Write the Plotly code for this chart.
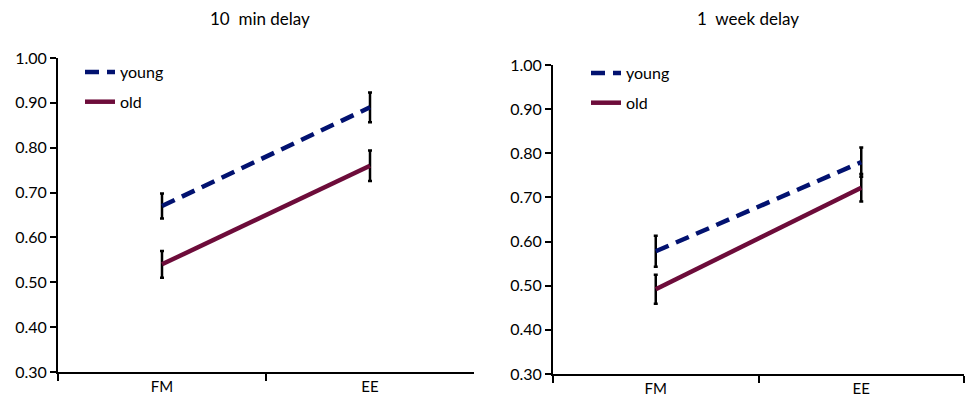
import plotly.graph_objects as go

categories = ["FM", "EE"]
titles = ["10  min delay", "1  week delay"]

young_10min = [0.67, 0.89]
young_10min_err = [0.028, 0.033]
old_10min = [0.54, 0.76]
old_10min_err = [0.03, 0.034]

young_1week = [0.578, 0.78]
young_1week_err = [0.035, 0.033]
old_1week = [0.492, 0.722]
old_1week_err = [0.033, 0.031]

yticks = [0.30, 0.40, 0.50, 0.60, 0.70, 0.80, 0.90, 1.00]
ytick_text = [f"{v:.2f}" for v in yticks]

YOUNG = "#021270"
OLD = "#6d0c3a"
FONT = "Lato, Open Sans, sans-serif"

fig = go.Figure()

panels = [
    ("x", "y", "legend", young_10min, young_10min_err, old_10min, old_10min_err),
    ("x2", "y2", "legend2", young_1week, young_1week_err, old_1week, old_1week_err),
]

for xa, ya, lg, yv, ye, ov, oe in panels:
    fig.add_trace(go.Scatter(
        x=categories, y=yv, xaxis=xa, yaxis=ya, name="young", legend=lg,
        legendgroup=lg + "y", mode="lines",
        line=dict(color=YOUNG, width=4.5, dash="14px,8px"),
        error_y=dict(type="data", array=ye, color="black", thickness=2.5, width=2),
    ))
    fig.add_trace(go.Scatter(
        x=categories, y=ov, xaxis=xa, yaxis=ya, name="old", legend=lg,
        legendgroup=lg + "o", mode="lines",
        line=dict(color=OLD, width=4.5),
        error_y=dict(type="data", array=oe, color="black", thickness=2.5, width=2),
    ))

xcommon = dict(type="category", range=[-0.5, 1.5], tickson="boundaries",
               ticks="outside", ticklen=7, tickwidth=2, tickcolor="black",
               showline=True, linecolor="black", linewidth=2,
               showgrid=False, zeroline=False, automargin=False,
               tickfont=dict(size=15, color="black", family=FONT))
ycommon = dict(range=[0.30, 1.00], tickvals=yticks, ticktext=ytick_text,
               ticks="outside", ticklen=6, tickwidth=2, tickcolor="black",
               showline=True, linecolor="black", linewidth=2,
               showgrid=False, zeroline=False, automargin=False,
               tickfont=dict(size=16, color="black", family=FONT))

fig.update_layout(
    width=965, height=404,
    margin=dict(l=0, r=0, t=0, b=0, autoexpand=False),
    paper_bgcolor="white", plot_bgcolor="white",
    font=dict(family=FONT, color="black"),
    showlegend=True,
    xaxis=dict(domain=[58/965, 474/965], anchor="y", **xcommon),
    yaxis=dict(domain=[1-372/404, 1-58/404], anchor="x", **ycommon),
    xaxis2=dict(domain=[553/965, 964/965], anchor="y2", **xcommon),
    yaxis2=dict(domain=[1-374/404, 1-65/404], anchor="x2", **ycommon),
    legend=dict(x=80/965, y=1-55/404, xanchor="left", yanchor="top",
                bgcolor="rgba(0,0,0,0)", tracegroupgap=6,
                font=dict(size=16, family=FONT, color="black")),
    legend2=dict(x=586/965, y=1-56/404, xanchor="left", yanchor="top",
                 bgcolor="rgba(0,0,0,0)", tracegroupgap=6,
                 font=dict(size=16, family=FONT, color="black")),
    annotations=[
        dict(text=titles[0], x=260/965, y=1-18/404, xref="paper", yref="paper",
             xanchor="center", yanchor="middle",
             showarrow=False, font=dict(size=17, family=FONT, color="black")),
        dict(text=titles[1], x=748/965, y=1-18/404, xref="paper", yref="paper",
             xanchor="center", yanchor="middle",
             showarrow=False, font=dict(size=17, family=FONT, color="black")),
    ],
)

fig.write_html("out.html", config={"displayModeBar": False},
               post_script="document.body.style.margin='0';document.body.style.padding='0';")
